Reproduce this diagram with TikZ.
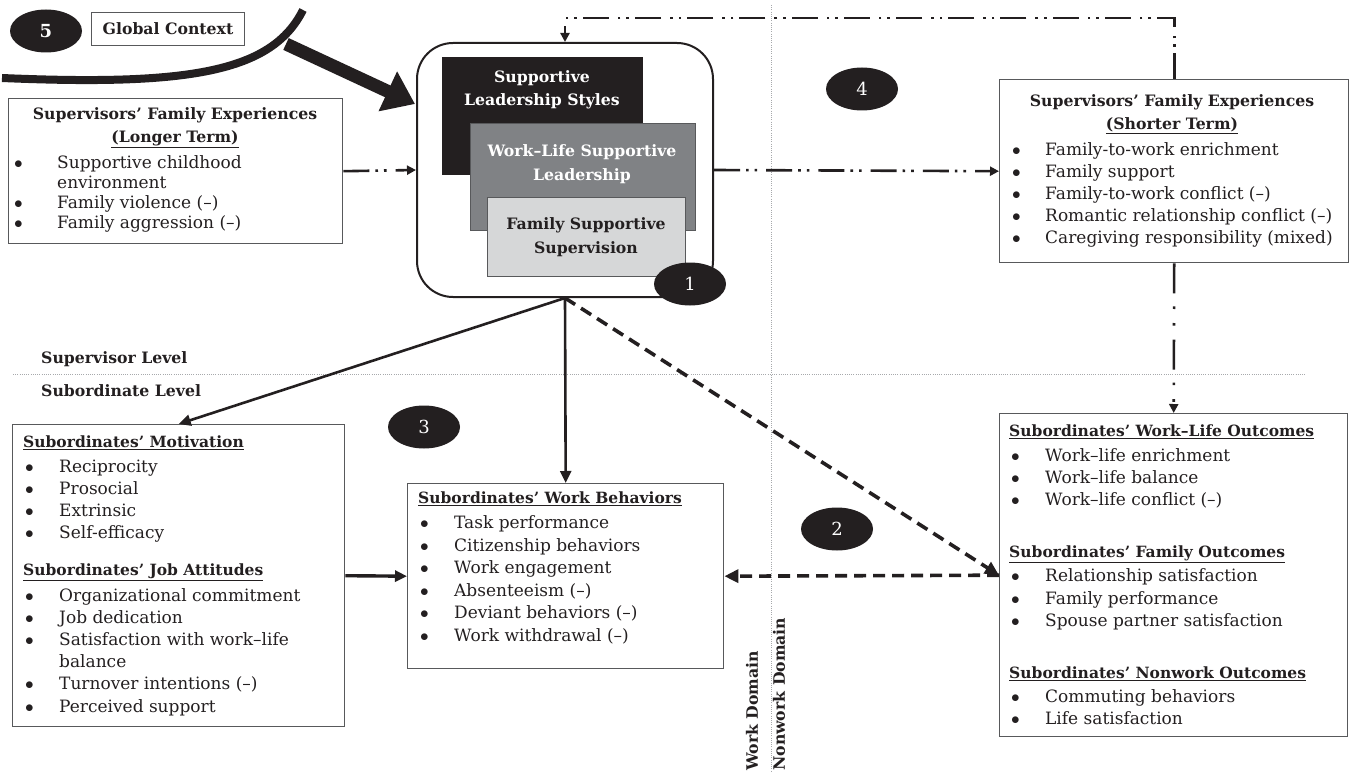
\documentclass[tikz,border=0pt]{standalone}
\usepackage{fontspec}
\setmainfont{DejaVu Serif}
\usetikzlibrary{arrows.meta,positioning,calc,shapes.geometric}

\definecolor{ink}{HTML}{231F20}
\definecolor{boxline}{HTML}{58595B}
\definecolor{midgray}{HTML}{808285}
\definecolor{litegray}{HTML}{D6D7D8}
\definecolor{guidegray}{HTML}{A7A9AC}

% bullet line with a given indent
\newcommand\bul[2][36pt]{\makebox[#1][l]{\hspace*{2pt}$\bullet$}#2}
\newcommand\hd[1]{\underline{{\fontsize{15.5}{22}\selectfont\bfseries #1}}}
\newcommand\fbody{\fontsize{17}{22.2}\selectfont}
\newcommand\fhead{\fontsize{15.7}{23.5}\selectfont\bfseries}

\tikzset{
  box/.style={draw=boxline,line width=1.4pt,inner sep=0pt,anchor=north west},
  list/.style={align=left,anchor=north west,inner sep=0pt,text=ink,font=\fbody},
  title/.style={align=center,anchor=north,inner sep=0pt,text=ink,font=\fhead},
  badge/.style={ellipse,fill=ink,text=white,minimum width=72pt,minimum height=43pt,inner sep=0pt,font=\fontsize{18}{20}\selectfont},
  guide/.style={guidegray,line width=0.9pt,dash pattern=on 1pt off 1.2pt},
  link/.style={ink,line width=2.6pt,-{Triangle[length=12pt,width=11pt]}},
  dashlink/.style={ink,line width=3.6pt,dash pattern=on 12pt off 7pt,-{Triangle[length=14pt,width=13pt]}},
  dotlink/.style={ink,line width=2.6pt,dash pattern=on 26pt off 6pt on 2.6pt off 6pt on 2.6pt off 9pt,-{Triangle[length=9pt,width=9pt]}},
}

\begin{document}
\begin{tikzpicture}[x=1pt,y=-1pt]
\useasboundingbox (0,0) rectangle (1350,773);

% level and domain guides
\draw[guide] (13,374) -- (1305,374);
\draw[guide] (771,5) -- (771,773);
\node[anchor=west,inner sep=0pt,text=ink,font=\fhead] (suplev) at (41,359) {Supervisor Level};
\node[anchor=west,inner sep=0pt,text=ink,font=\fhead] (sublev) at (41,391) {Subordinate Level};
\node[anchor=west,rotate=90,inner sep=0pt,text=ink,font=\fhead] (workdom) at (752,771) {Work Domain};
\node[anchor=west,rotate=90,inner sep=0pt,text=ink,font=\fhead] (nonworkdom) at (779,771) {Nonwork Domain};

% global context
\node[badge] (n5) at (46,31) {\textbf{5}};
\node[draw=boxline,line width=1.2pt,minimum width=153pt,minimum height=33pt,inner sep=0pt,text=ink,font=\fhead] (glob) at (168,29) {Global Context};
\draw[ink,line width=8pt] (2,78) .. controls (190,86) and (272,72) .. (303,10);
\coordinate (gc) at (286,44);
\coordinate (hit) at (415,104);
\draw[ink,line width=13pt,-{Triangle[length=30pt,width=42pt]}] (gc) -- (hit);

% supportive leadership styles
\node[draw=ink,line width=2pt,rounded corners=36pt,minimum width=296pt,minimum height=254pt,inner sep=0pt] (lead) at (565,170) {};
\node[fill=ink,minimum width=201pt,minimum height=118pt,inner sep=0pt,anchor=north west] (sls) at (442,57) {};
\node[title,text=white,anchor=center] (slsT) at (542,90) {Supportive\\Leadership Styles};
\node[fill=midgray,draw=boxline,line width=1pt,minimum width=225pt,minimum height=107pt,inner sep=0pt,anchor=north west] (wls) at (470,123) {};
\node[title,text=white,anchor=center] (wlsT) at (582,164) {Work–Life Supportive\\Leadership};
\node[fill=litegray,draw=boxline,line width=1pt,minimum width=198pt,minimum height=79pt,inner sep=0pt,anchor=north west] (fss) at (487,197) {};
\node[title,anchor=center] (fssT) at (586,237) {Family Supportive\\Supervision};
\node[badge] (n1) at (690,284) {1};

% supervisors' family experiences
\node[box,minimum width=334pt,minimum height=145pt] (lfam) at (8,98) {};
\node[title] (lfamT) at (175,107) {Supervisors’ Family Experiences\\\underline{(Longer Term)}};
\node[list,font=\fontsize{17}{20.2}\selectfont] (lfamL) at (12,155) {\bul[45pt]{Supportive childhood}\\\hspace*{45pt}environment\\\bul[45pt]{Family violence (–)}\\\bul[45pt]{Family aggression (–)}};

\node[box,minimum width=349pt,minimum height=183pt] (rfam) at (999,79) {};
\node[title] (rfamT) at (1172,94) {Supervisors’ Family Experiences\\\underline{(Shorter Term)}};
\node[list] (rfamL) at (1010,142) {\bul[35pt]{Family-to-work enrichment}\\\bul[35pt]{Family support}\\\bul[35pt]{Family-to-work conflict (–)}\\\bul[35pt]{Romantic relationship conflict (–)}\\\bul[35pt]{Caregiving responsibility (mixed)}};

% subordinate outcomes
\node[box,minimum width=332pt,minimum height=302pt] (lsub) at (12,424) {};
\node[list] (lsubL) at (23,436) {\hd{Subordinates’ Motivation}\\[2pt]\bul{Reciprocity}\\\bul{Prosocial}\\\bul{Extrinsic}\\\bul{Self-efficacy}\\[15pt]\hd{Subordinates’ Job Attitudes}\\[3pt]\bul{Organizational commitment}\\\bul{Job dedication}\\\bul{Satisfaction with work–life}\\\hspace*{36pt}balance\\\bul{Turnover intentions (–)}\\\bul{Perceived support}};

\node[box,minimum width=316pt,minimum height=185pt] (wbeh) at (407,483) {};
\node[list,font=\fontsize{17}{22.6}\selectfont] (wbehL) at (418,492) {\hd{Subordinates’ Work Behaviors}\\[2pt]\bul{Task performance}\\\bul{Citizenship behaviors}\\\bul{Work engagement}\\\bul{Absenteeism (–)}\\\bul{Deviant behaviors (–)}\\\bul{Work withdrawal (–)}};

\node[box,minimum width=348pt,minimum height=323pt] (sout) at (999,413) {};
\node[list] (soutL) at (1009,425) {\hd{Subordinates’ Work–Life Outcomes}\\[2pt]\bul{Work–life enrichment}\\\bul{Work–life balance}\\\bul{Work–life conflict (–)}\\[30pt]\hd{Subordinates’ Family Outcomes}\\[2pt]\bul{Relationship satisfaction}\\\bul{Family performance}\\\bul{Spouse partner satisfaction}\\[30pt]\hd{Subordinates’ Nonwork Outcomes}\\[2pt]\bul{Commuting behaviors}\\\bul{Life satisfaction}};

\node[badge] (n4) at (862,89) {4};
\node[badge] (n3) at (424,427) {3};
\node[badge] (n2) at (837,529) {2};

% connectors
\draw[dotlink] (lfam.east) -- (lead.west);
\draw[dotlink] (lead.east) -- (rfam.west);
\draw[dotlink] (rfam.north) -- ++(0,-61) -| (lead.north);
\draw[dotlink,dash pattern=on 30pt off 13pt on 2.6pt off 14pt on 2.6pt off 14pt] (rfam.south) -- (sout.north);
\draw[link] (lead.south) -- (lsub.north);
\draw[link] (lead.south) -- (wbeh.north);
\draw[link,line width=3.4pt] (lsub.east) -- (wbeh.west);
\draw[dashlink] (lead.south) -- (sout.west);
\draw[dashlink] (sout.west) -- (wbeh.east);
\end{tikzpicture}
\end{document}
